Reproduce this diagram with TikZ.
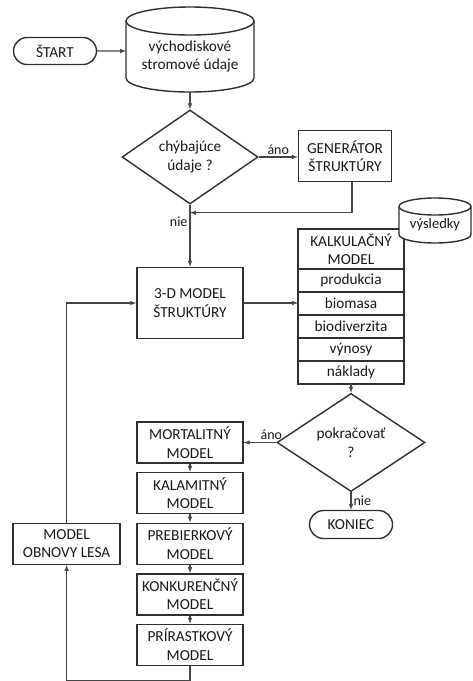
\documentclass[tikz,border=0pt]{standalone}
\usepackage{fontspec}
\setmainfont{Carlito}
\usetikzlibrary{calc}
\usetikzlibrary{positioning}
\usetikzlibrary{shapes.geometric}
\usetikzlibrary{shapes.misc}
\definecolor{linegray}{RGB}{48,48,48}
\definecolor{flowgray}{RGB}{70,70,70}
\tikzstyle{procnode} = [draw, rectangle, minimum width=106, minimum height=41, align=center, inner sep=1]
\tikzstyle{rownode} = [draw, rectangle, minimum width=106, minimum height=23, inner sep=0, outer sep=0]
\tikzstyle{termnode} = [draw, rounded rectangle, minimum width=85, minimum height=27, inner sep=1]
\tikzstyle{decnode} = [draw, diamond, align=center, inner sep=0]
\tikzstyle{datanode} = [rectangle, align=center, inner sep=1, outer sep=0]
\tikzstyle{flow} = [->, line width=1.05, draw=flowgray]
\tikzstyle{lbl} = [font=\fontsize{14}{16}\selectfont, inner sep=2]

\begin{document}
\begin{tikzpicture}[x=1pt, y=1pt, line width=1.4, draw=linegray, >=latex,
    font=\fontsize{15.3}{18.5}\selectfont, text=black!90]
    \useasboundingbox (0,0) rectangle (473,-681);

    \node[termnode] (start) at (55,-51) {ŠTART};

    % vychodiskove udaje (valec)
    \coordinate (data_top) at ($(start)+(135,30)$);
    \node[datanode, minimum width=128, minimum height=71] (data)
        at ($(data_top)+(0,-35.5)$) {východiskové\\stromové údaje};
    \draw (data.north west) -- ($(data.south west)+(0,14)$)
        arc[start angle=180, end angle=360, x radius=64, y radius=14]
        -- (data.north east);
    \draw (data_top) ellipse[x radius=64, y radius=14];
    \draw[flow] (start) -- (start -| data.west);

    \node[decnode, minimum width=136, minimum height=90] (chyb)
        at ($(start)+(135,-106)$) {chýbajúce\\údaje ?};
    \node[procnode, minimum width=93, minimum height=51] (gen)
        at ($(chyb)+(155,1)$) {GENERÁTOR\\ŠTRUKTÚRY};
    \draw[flow] (data.south) -- (chyb.north);
    \draw[flow] (chyb.east) -- node[lbl, above] {áno} (chyb.east -| gen.west);

    \node[procnode, minimum height=71] (model3d) at ($(chyb)+(0,-146)$)
        {3-D MODEL\\ŠTRUKTÚRY};
    \coordinate (join) at ($(chyb.south)+(0,-8)$);
    \draw[flow] (chyb.south) -- node[lbl, left, pos=0.27] {nie} (model3d.north);
    \draw[flow] ([xshift=7]gen.south) |- (join);

    % kalkulacny model a jeho casti
    \node[procnode, minimum height=40, outer sep=0] (calc_head) at ($(model3d)+(161,54)$)
        {KALKULAČNÝ\\MODEL};
    \node[rownode] (calc_prod) [below=0 of calc_head] {produkcia};
    \node[rownode] (calc_bio) [below=0 of calc_prod] {biomasa};
    \node[rownode] (calc_div) [below=0 of calc_bio] {biodiverzita};
    \node[rownode] (calc_vyn) [below=0 of calc_div] {výnosy};
    \node[rownode] (calc_nak) [below=0 of calc_vyn] {náklady};
    \draw[flow] (model3d.east) -- (model3d.east -| calc_bio.west);

    % vysledky (valec cez roh tabulky)
    \coordinate (res_top) at ($(calc_head.north east)+(31,22.5)$);
    \draw[fill=white] ($(res_top)+(-36,0)$) -- ++(0,-28)
        arc[start angle=180, end angle=360, x radius=36, y radius=8.5]
        -- ++(0,28)
        arc[start angle=0, end angle=180, x radius=36, y radius=8.5];
    \draw ($(res_top)+(-36,0)$)
        arc[start angle=180, end angle=360, x radius=36, y radius=8.5];
    \node[datanode, font=\fontsize{14.5}{16}\selectfont] (result)
        at ($(res_top)+(0,-18.5)$) {výsledky};

    \node[decnode, minimum width=148, minimum height=74] (pokr)
        at ($(calc_nak.south)+(0,-58.5)$) {pokračovať\\?};
    \node[termnode, minimum height=28] (koniec) at ($(pokr)+(0,-82)$) {KONIEC};
    \draw[flow] (calc_nak.south) -- (pokr.north);
    \draw[flow] (pokr.south) -- node[lbl, right] {nie} (koniec.north);

    % retazec modelov
    \node[procnode] (mort) at ($(model3d)+(0,-139.5)$) {MORTALITNÝ\\MODEL};
    \node[procnode] (kalam) [below=8.2 of mort] {KALAMITNÝ\\MODEL};
    \node[procnode] (preb) [below=8.2 of kalam] {PREBIERKOVÝ\\MODEL};
    \node[procnode] (konk) [below=8.2 of preb] {KONKURENČNÝ\\MODEL};
    \node[procnode] (prir) [below=8.2 of konk] {PRÍRASTKOVÝ\\MODEL};
    \node[procnode, minimum width=107] (obnova) [left=15.5 of preb]
        {MODEL\\OBNOVY LESA};
    \draw[flow] (pokr.west) -- node[lbl, above, pos=0.15] {áno} (pokr.west -| mort.east);
    \draw[flow] (mort) -- (kalam);
    \draw[flow] (kalam) -- (preb);
    \draw[flow] (preb) -- (konk);
    \draw[flow] (konk) -- (prir);
    \draw[flow] (prir.south) -- ++(0,-14.5) -| (obnova.south);
    \draw[flow] (obnova.north) |- (model3d.west);
\end{tikzpicture}
\end{document}
